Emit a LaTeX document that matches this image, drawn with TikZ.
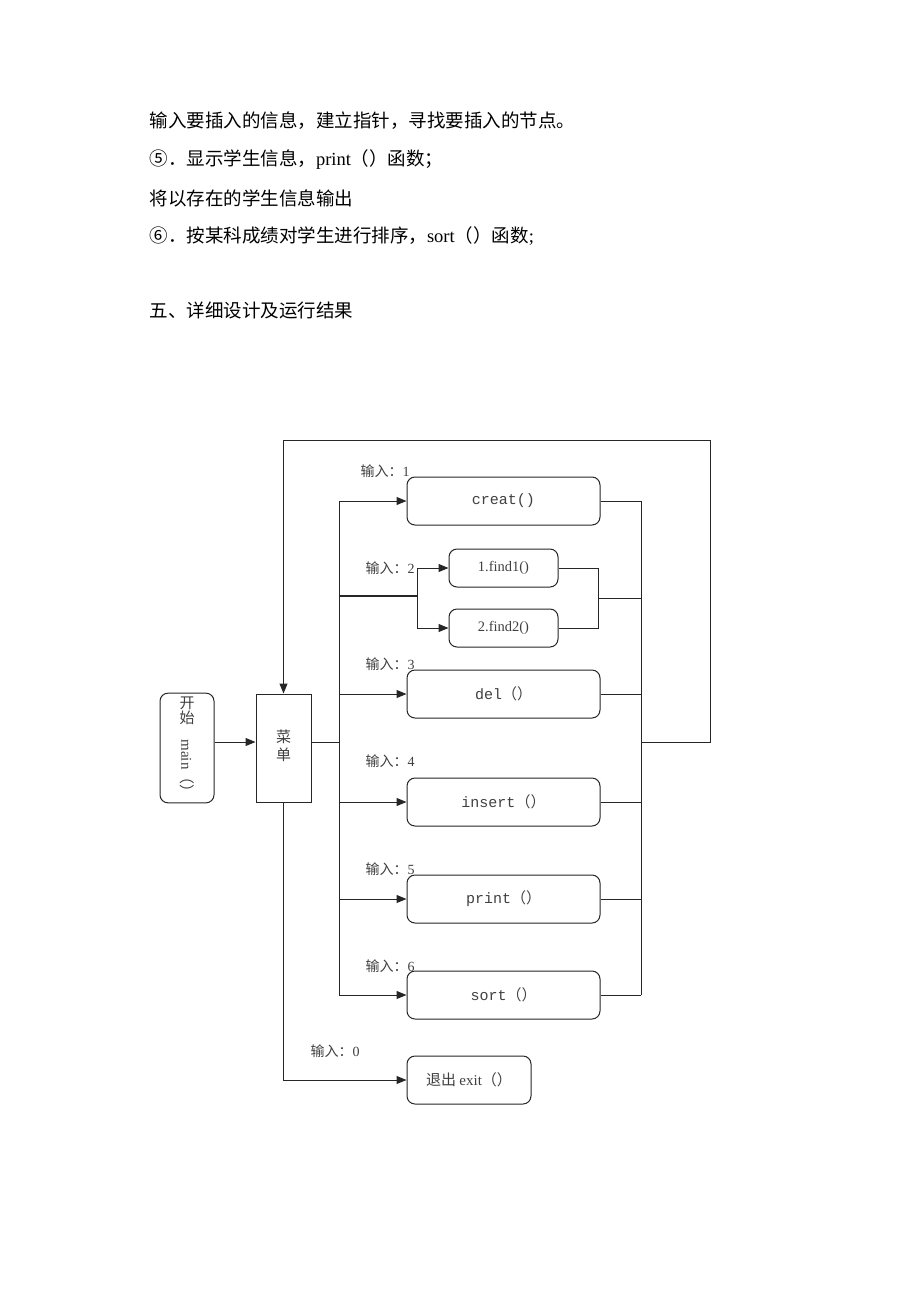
\documentclass[tikz,border=0pt]{standalone}
\usepackage{fontspec}
\setmainfont{Liberation Serif}
\newfontfamily\cjk{Noto Sans CJK SC}
\newfontfamily\mono{Liberation Mono}
\usetikzlibrary{arrows.meta}
\newcommand{\zh}[1]{{\cjk #1}}

\begin{document}
\begin{tikzpicture}[x=1pt,y=-1pt,
  line/.style={draw=black!85,line width=1pt},
  arr/.style={line,-{Triangle[length=10pt,width=8pt]}},
  rbox/.style={draw=black!85,line width=1pt,rounded corners=8pt,minimum width=193pt,minimum height=48pt,text=black!75,font=\mono\fontsize{15}{15}\selectfont},
  sbox/.style={rbox,minimum width=109pt,minimum height=38pt,font=\fontsize{14.5}{14.5}\selectfont},
  lab/.style={anchor=west,text=black!75,font=\fontsize{14}{14}\selectfont},
  txt/.style={anchor=west,font=\fontsize{18.5}{18.5}\selectfont}]
\useasboundingbox[fill=white] (0,0) rectangle (920,1302);

\begin{scope}
% text above the chart
\node[txt] (t1) at (146,121) {\zh{输入要插入的信息，建立指针，寻找要插入的节点。}};
\node[txt] (t2) at (146,160) {\zh{⑤．显示学生信息，}print\zh{（）函数；}};
\node[txt] (t3) at (146,198) {\zh{将以存在的学生信息输出}};
\node[txt] (t4) at (146,236) {\zh{⑥．按某科成绩对学生进行排序，}sort\zh{（）函数};};
\node[txt] (t5) at (146,310) {\zh{五、详细设计及运行结果}};
\end{scope}

\begin{scope}
\node[rbox,minimum width=54pt,minimum height=108pt,font=\fontsize{15}{16}\selectfont] (start) at (187,748)
  {\begin{tabular}{@{}c@{}}\zh{开}\\[-2pt]\zh{始}\\\rotatebox{-90}{main\zh{（）}}\end{tabular}};
\node[draw=black!85,line width=1pt,minimum width=55pt,minimum height=108pt,text=black!75,font=\fontsize{15}{17}\selectfont] (menu) at (283.5,748)
  {\begin{tabular}{@{}c@{}}\zh{菜}\\\zh{单}\end{tabular}};

\node[rbox] (creat) at (503.5,501) {creat()};
\node[sbox] (find1) at (503.5,568) {1.find1()};
\node[sbox] (find2) at (503.5,628) {2.find2()};
\node[rbox] (del) at (503.5,694) {del\zh{（）}};
\node[rbox] (insert) at (503.5,802) {insert\zh{（）}};
\node[rbox] (print) at (503.5,899) {print\zh{（）}};
\node[rbox] (sort) at (503.5,995) {sort\zh{（）}};
\node[rbox,minimum width=124pt,font=\fontsize{15}{15}\selectfont] (exit) at (469,1080) {\zh{退出 }exit\zh{（）}};

\node[lab] (l1) at (357,471) {\zh{输入：}1};
\node[lab] (l2) at (362,568) {\zh{输入：}2};
\node[lab] (l3) at (362,664) {\zh{输入：}3};
\node[lab] (l4) at (362,761) {\zh{输入：}4};
\node[lab] (l5) at (362,869) {\zh{输入：}5};
\node[lab] (l6) at (362,966) {\zh{输入：}6};
\node[lab] (l0) at (307,1051) {\zh{输入：}0};

\coordinate (lb) at (339,742);
\coordinate (rb) at (641,742);
\coordinate (fb) at (417,596);
\coordinate (fr) at (598,598);
\coordinate (loop) at (710,440);

% left side
\draw[arr] ([yshift=6pt]start.east) -- ([yshift=6pt]menu.west);
\draw[line] ([yshift=6pt]menu.east) -- (lb);
\draw[line] (lb |- creat.west) -- (lb |- sort.west);
\foreach \n in {creat,del,insert,print,sort}
  \draw[arr] (lb |- \n.west) -- (\n.west);
\draw[line,line width=2pt] (lb |- fb) -- (fb);
\draw[line] (fb |- find1.west) -- (fb |- find2.west);
\draw[arr] (fb |- find1.west) -- (find1.west);
\draw[arr] (fb |- find2.west) -- (find2.west);
\draw[arr] (menu.south) -- (menu.south |- exit.west) -- (exit.west);

% right side
\draw[line] (rb |- creat.east) -- (rb |- sort.east);
\foreach \n in {creat,del,insert,print,sort}
  \draw[line] (\n.east) -- (rb |- \n.east);
\draw[line] (find1.east) -- (fr |- find1.east) -- (fr |- find2.east) -- (find2.east);
\draw[line] (fr) -- (rb |- fr);
\draw[arr] (rb) -- (loop |- rb) -- (loop) -- (loop -| menu.north) -- (menu.north);
\end{scope}

\end{tikzpicture}
\end{document}
